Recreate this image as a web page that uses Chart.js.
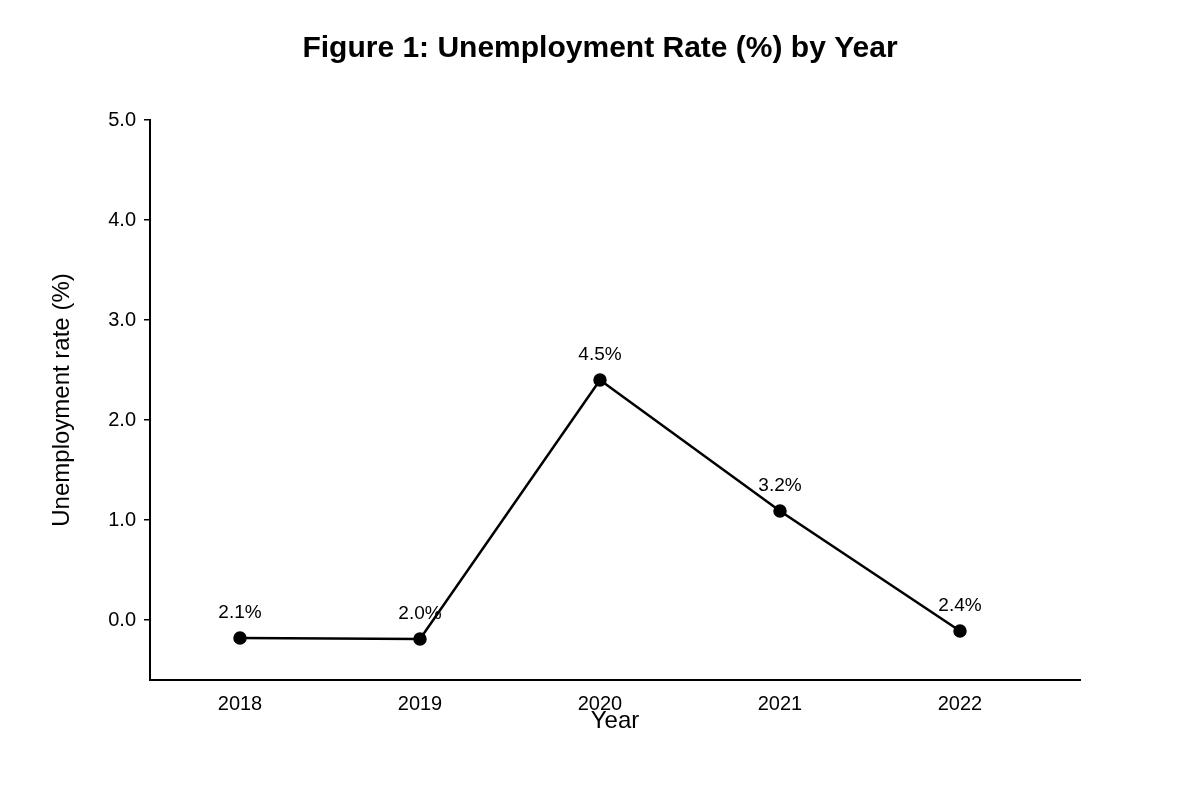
<!DOCTYPE html>
<html><head><meta charset="utf-8">
<script src="https://cdn.jsdelivr.net/npm/chart.js@4"></script>
<style>html,body{margin:0;background:#fff}#w{width:1200px;height:800px}</style>
</head><body><div id="w"><canvas id="c"></canvas></div>
<script>
const years = [2018, 2019, 2020, 2021, 2022];
const plotted = [-0.18, -0.19, 2.40, 1.09, -0.11];
const pointLabels = ["2.1%", "2.0%", "4.5%", "3.2%", "2.4%"];
const yTicks = [0, 1, 2, 3, 4, 5];
const FONT = "Liberation Sans, Arial, sans-serif";
const deco = {
  id: 'deco',
  afterDraw(chart) {
    const ctx = chart.ctx, xs = chart.scales.x, ys = chart.scales.y;
    ctx.save();
    ctx.fillStyle = '#000';
    ctx.textAlign = 'center'; ctx.textBaseline = 'middle';
    ctx.font = 'bold 30px ' + FONT;
    ctx.fillText('Figure 1: Unemployment Rate (%) by Year', 600, 49);
    ctx.font = '24px ' + FONT;
    ctx.fillText('Year', (xs.left + xs.right) / 2, 721);
    ctx.save(); ctx.translate(62, 400); ctx.rotate(-Math.PI / 2);
    ctx.fillText('Unemployment rate (%)', 0, 0); ctx.restore();
    ctx.font = '19px ' + FONT;
    years.forEach((yr, i) => {
      ctx.fillText(pointLabels[i], xs.getPixelForValue(yr), ys.getPixelForValue(plotted[i]) - 25);
    });
    ctx.restore();
  }
};
new Chart(document.getElementById('c'), {
  type: 'line',
  data: { datasets: [{ data: years.map((y, i) => ({ x: y, y: plotted[i] })),
    borderColor: '#000', backgroundColor: '#000', borderWidth: 2.5,
    pointRadius: 5.5, pointBackgroundColor: '#000', tension: 0 }] },
  options: {
    responsive: true, maintainAspectRatio: false, animation: false,
    layout: { padding: { top: 120, right: 120, left: 0, bottom: 0 } },
    plugins: { legend: { display: false }, tooltip: { enabled: false } },
    scales: {
      x: { type: 'linear', min: 2017.5, max: 2022.6667,
        afterBuildTicks: s => { s.ticks = years.map(v => ({ value: v })); },
        afterFit: s => { s.height = 120; },
        grid: { display: false, drawTicks: false },
        border: { color: '#000', width: 2 },
        ticks: { color: '#000', font: { size: 20, family: FONT }, padding: 12, callback: v => String(v) } },
      y: { min: -0.6, max: 5.0,
        afterBuildTicks: s => { s.ticks = yTicks.map(v => ({ value: v })); },
        afterFit: s => { s.width = 150; },
        grid: { display: true, drawOnChartArea: false, drawTicks: true, tickLength: 6, color: '#000', lineWidth: 1.5 },
        border: { color: '#000', width: 2 },
        ticks: { color: '#000', font: { size: 20, family: FONT }, padding: 8, callback: v => Number(v).toFixed(1) } }
    }
  },
  plugins: [deco]
});
</script></body></html>
